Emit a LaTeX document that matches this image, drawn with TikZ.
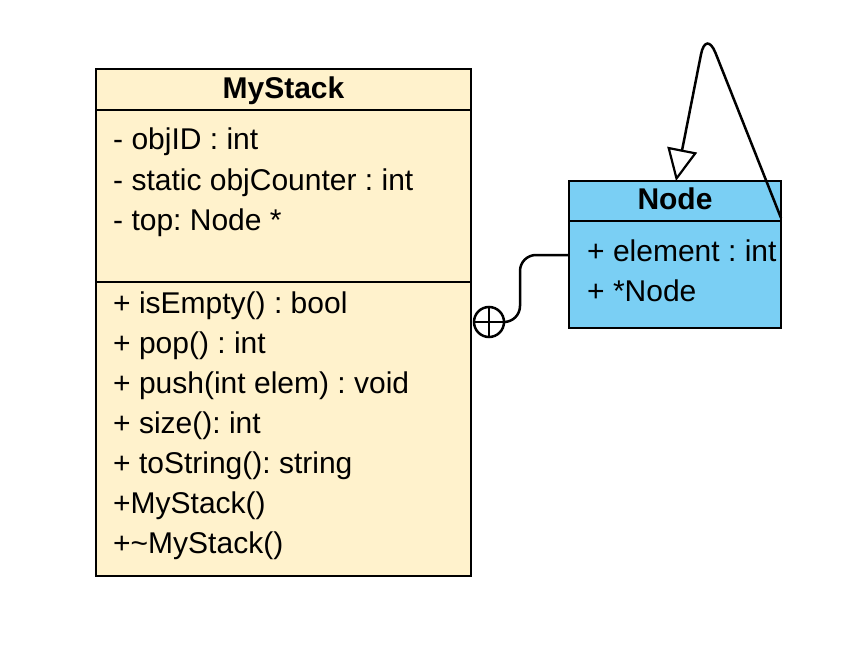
\documentclass[tikz,border=0pt]{standalone}
\usepackage{fontspec}
\setmainfont{Liberation Sans}
\usetikzlibrary{arrows.meta}
\definecolor{stackfill}{HTML}{FFF2CC}
\definecolor{nodefill}{HTML}{7ACFF4}
\frenchspacing
\begin{document}
\begin{tikzpicture}[x=1pt,y=1pt,
  box/.style={draw=black,line width=2.2pt,inner sep=0pt,outer sep=0pt,anchor=north west},
  sep/.style={line width=2.2pt},
  txt/.style={anchor=base west,inner sep=0pt,font=\fontsize{30}{34}\selectfont},
  ttl/.style={anchor=base,inner sep=0pt,font=\fontsize{30}{34}\selectfont\bfseries},
  conn/.style={line width=2.5pt,black}]
\useasboundingbox (0,0) rectangle (852,-650);
% MyStack class
\node[box,fill=stackfill,minimum width=375pt,minimum height=507pt] (stack) at (96,-69) {};
\draw[sep] (96,-110) -- (471,-110);
\draw[sep] (96,-282) -- (471,-282);
\node[ttl] (stitle) at (283.5,-99) {MyStack};
\node[txt] (a1) at (113,-150) {- objID : int};
\node[txt] (a2) at (113,-190) {- static objCounter : int};
\node[txt] (a3) at (113,-230) {- top: Node *};
\node[txt] (m1) at (113,-313) {+ isEmpty() : bool};
\node[txt] (m2) at (113,-353) {+ pop() : int};
\node[txt] (m3) at (113,-393) {+ push(int elem) : void};
\node[txt] (m4) at (113,-433) {+ size(): int};
\node[txt] (m5) at (113,-473) {+ toString(): string};
\node[txt] (m6) at (113,-513) {+MyStack()};
\node[txt] (m7) at (113,-553) {+\textasciitilde MyStack()};
% Node class
\node[box,fill=nodefill,minimum width=212pt,minimum height=147pt] (nbox) at (569,-181) {};
\draw[sep] (569,-221) -- (781,-221);
\node[ttl] (ntitle) at (675,-210) {Node};
\node[txt] (n1) at (587,-261) {+ element : int};
\node[txt] (n2) at (587,-301) {+ *Node};
% nesting connector
\node[draw,circle,line width=2.5pt,minimum size=30pt,inner sep=0pt,fill=white] (cp) at (489,-322) {};
\draw[line width=2.5pt] (cp.west) -- (cp.east) (cp.north) -- (cp.south);
\coordinate (nin) at (569,-255);
\draw[conn,rounded corners=16pt] (cp.east) -- (520,-322) -- (520,-255) -- (nin);
% self association
\coordinate (sstart) at (781,-218);
\coordinate (stip) at (676,-181);
\draw[conn,rounded corners=26pt,-{Triangle[open,length=32pt,width=30pt,line width=2.2pt]}] (sstart) -- (706,-29) -- (stip);
\end{tikzpicture}
\end{document}
